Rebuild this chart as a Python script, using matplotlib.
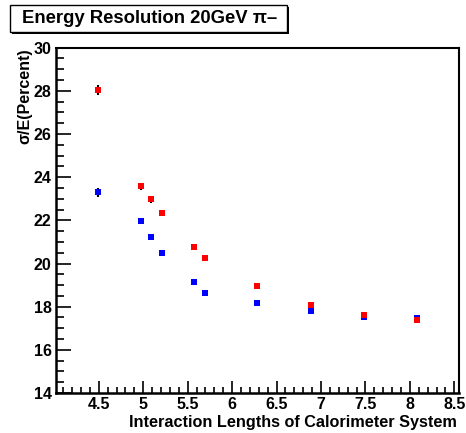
import matplotlib
matplotlib.use("Agg")
import matplotlib.pyplot as plt
from matplotlib.patches import Rectangle
from matplotlib.ticker import MultipleLocator, FuncFormatter

plt.rcParams['font.family'] = ['Liberation Sans', 'DejaVu Sans']
plt.rcParams['font.weight'] = 'bold'

# Data
x_red = [4.49, 4.97, 5.09, 5.21, 5.57, 5.69, 6.28, 6.89, 7.48, 8.08]
y_red = [28.04, 23.58, 22.97, 22.33, 20.78, 20.24, 18.94, 18.06, 17.63, 17.38]
e_red = [0.24, 0.17, 0.15, 0.15, 0.14, 0.13, 0.13, 0.12, 0.12, 0.12]

x_blue = [4.49, 4.97, 5.09, 5.21, 5.57, 5.69, 6.28, 6.89, 7.48, 8.08]
y_blue = [23.30, 21.98, 21.23, 20.49, 19.14, 18.63, 18.16, 17.78, 17.51, 17.49]
e_blue = [0.2, 0.15, 0.14, 0.14, 0.13, 0.12, 0.12, 0.12, 0.11, 0.11]

title = "Energy Resolution 20GeV \u03c0\u2013"
xlabel = "Interaction Lengths of Calorimeter System"
ylabel = "\u03c3/E(Percent)"

W, H = 466, 433
fig = plt.figure(figsize=(W / 100, H / 100), dpi=100)
ax = fig.add_axes([55.7 / W, (H - 393) / H, (459 - 55.7) / W, (393 - 47.7) / H])

for xs, ys, es, c in [(x_blue, y_blue, e_blue, '#0000ff'), (x_red, y_red, e_red, '#ff0000')]:
    ax.errorbar(xs, ys, yerr=es, fmt='none', ecolor='black', elinewidth=1.5, capsize=0, zorder=2)
    ax.plot(xs, ys, linestyle='none', marker='s', markersize=5.0, color=c,
            markeredgewidth=0, zorder=3)

ax.set_xlim(4.016, 8.553)
ax.set_ylim(14, 30)
ax.xaxis.set_major_locator(MultipleLocator(0.5))
ax.xaxis.set_minor_locator(MultipleLocator(0.1))
ax.yaxis.set_major_locator(MultipleLocator(2))
ax.yaxis.set_minor_locator(MultipleLocator(0.5))

ax.tick_params(axis='both', which='both', direction='in', top=False, right=False,
               colors='black', width=1.2)
ax.tick_params(axis='x', which='major', length=9, pad=3, labelsize=11.5)
ax.tick_params(axis='x', which='minor', length=4.5)
ax.tick_params(axis='y', which='major', length=11, pad=3, labelsize=11.5)
ax.tick_params(axis='y', which='minor', length=5.5)

ax.xaxis.set_major_formatter(FuncFormatter(lambda v, p: ('%g' % v)))
ax.yaxis.set_major_formatter(FuncFormatter(lambda v, p: ('%g' % v)))
for lab in ax.get_xticklabels() + ax.get_yticklabels():
    lab.set_fontweight('bold')

for s in ['left', 'bottom']:
    ax.spines[s].set_linewidth(1.8)
for s in ['top', 'right']:
    ax.spines[s].set_linewidth(1.5)

fig.text(457 / W, 1 - 427 / H, xlabel, ha='right', va='baseline', fontsize=11.7, fontweight='bold')
fig.text(25 / W, 1 - 48 / H, ylabel, ha='center', va='top', rotation=90, fontsize=11.5,
         fontweight='bold')

# Title box
bx0, by0, bx1, by1 = 10, 5, 287, 32
fig.patches.append(Rectangle((bx0 / W + 2 / W, 1 - (by1 + 2) / H), (bx1 - bx0) / W, (by1 - by0) / H,
                             transform=fig.transFigure, facecolor='black', edgecolor='none', zorder=1))
fig.patches.append(Rectangle((bx0 / W, 1 - by1 / H), (bx1 - bx0) / W, (by1 - by0) / H,
                             transform=fig.transFigure, facecolor='white', edgecolor='black',
                             linewidth=1, zorder=2))
fig.text((bx0 + bx1) / 2 / W + 1 / W, 1 - (by0 + by1) / 2 / H, title, ha='center', va='center',
         fontsize=13.3, fontweight='bold', zorder=3)

fig.savefig("out.png", dpi=100)
